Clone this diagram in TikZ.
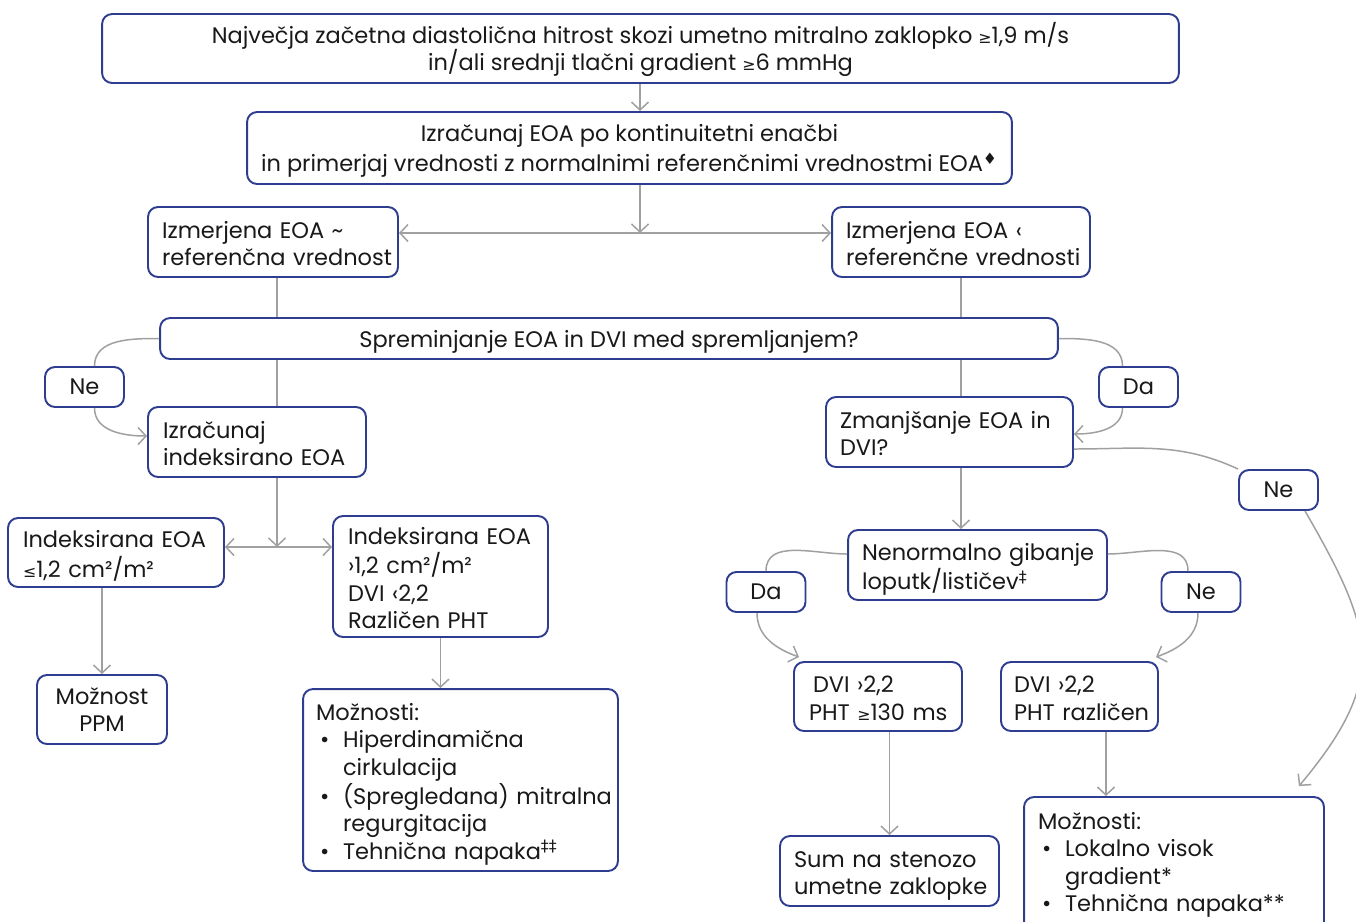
\documentclass[tikz,border=0pt]{standalone}
\usepackage{fontspec}
\setmainfont{Poppins}
\newfontfamily\symf{DejaVu Sans}
\usetikzlibrary{arrows.meta}

\definecolor{boxblue}{RGB}{46,61,143}
\definecolor{linkgray}{RGB}{160,160,160}
\definecolor{txt}{RGB}{25,25,25}

% small relation signs and footnote marks
\newcommand\gesym{{\symf\small ≥}}
\newcommand\lesym{{\symf\small ≤}}
\newcommand\ltsym{‹}
\newcommand\gtsym{›}
\newcommand\marksup[1]{\textsuperscript{\symf #1}}
% bullet list helpers
\newcommand\bitem{\makebox[0.54cm][l]{\hspace{0.08cm}\textbullet}}
\newcommand\bcont{\hspace*{0.54cm}}
% left-aligned lines that never wrap (first row slightly taller)
\newcommand\lines[1]{\begin{tabular}{@{}l@{}}\rule{0pt}{16pt}#1\end{tabular}}
\newcommand\topstrut{\rule{0pt}{13pt}}

\begin{document}
\begin{tikzpicture}[x=0.02cm,y=-0.02cm,
  box/.style={draw=boxblue, line width=1.1pt, rounded corners=0.2cm, fill=white,
    text=txt, font=\fontsize{12.8pt}{15.6pt}\selectfont, inner ysep=0pt},
  lbox/.style={box, align=left, inner xsep=0.28cm},
  cbox/.style={box, align=center},
  tag/.style={box, minimum width=1.58cm, minimum height=0.8cm, text depth=0pt},
  link/.style={draw=linkgray, line width=0.85pt},
  arr/.style={link, -{Straight Barb[length=0.16cm,width=0.34cm]}}]

\useasboundingbox (0,0) rectangle (1356,921);
\clip (0,0) rectangle (1356,921);

% ---------- boxes ----------
\node[cbox, minimum width=21.54cm, minimum height=1.38cm] (top) at (640.5,48.5)
  {\topstrut Največja začetna diastolična hitrost skozi umetno mitralno zaklopko \gesym1,9 m/s\\in/ali srednji tlačni gradient \gesym6 mmHg};
\node[cbox, minimum width=15.3cm, minimum height=1.44cm] (eq) at (629.5,148)
  {\topstrut Izračunaj EOA po kontinuitetni enačbi\\[2pt]in primerjaj vrednosti z normalnimi referenčnimi vrednostmi EOA\marksup{♦}};

\node[lbox, minimum height=1.4cm, text width=4.44cm] (izmL) at (273,242)
  {\lines{Izmerjena EOA \textasciitilde\\referenčna vrednost}};
\node[lbox, minimum height=1.4cm, text width=4.6cm] (izmR) at (961,242)
  {\lines{Izmerjena EOA \ltsym\\referenčne vrednosti}};

\node[cbox, minimum width=17.96cm, minimum height=0.82cm, text depth=0pt] (spr) at (609,338.5)
  {Spreminjanje EOA in DVI med spremljanjem?};

\node[tag] (neL) at (84.5,387) {Ne};
\node[tag] (daR) at (1138.5,387) {Da};

\node[lbox, inner xsep=0.3cm, minimum height=1.4cm, text width=3.76cm] (izr) at (257,442)
  {\lines{Izračunaj\\indeksirano EOA}};
\node[lbox, minimum height=1.4cm, text width=4.38cm] (zma) at (949.5,432)
  {\lines{Zmanjšanje EOA in\\DVI?}};
\node[tag] (neR) at (1278.5,490) {Ne};

\node[lbox, inner xsep=0.3cm, minimum height=1.38cm, text width=3.72cm] (indL) at (116,552.5)
  {\lines{Indeksirana EOA\\\lesym1,2 cm²/m²}};
\node[lbox, inner xsep=0.3cm, minimum height=2.42cm, text width=3.7cm] (indR) at (440.5,576.5)
  {\lines{Indeksirana EOA\\\gtsym1,2 cm²/m²\\DVI \ltsym2,2\\Različen PHT}};

\node[lbox, minimum height=1.4cm, text width=4.62cm] (nen) at (977.5,565)
  {\lines{Nenormalno gibanje\\loputk/lističev\marksup{‡}}};
\node[tag] (daB) at (766,592) {Da};
\node[tag] (neB) at (1201,592) {Ne};

\node[cbox, minimum width=2.6cm, minimum height=1.38cm] (ppm) at (102,709.5)
  {Možnost\\PPM};
\node[lbox, inner xsep=0.26cm, minimum height=3.64cm, text width=5.78cm] (moz1) at (460.5,780)
  {\lines{Možnosti:\\\bitem Hiperdinamična\\\bcont cirkulacija\\\bitem (Spregledana) mitralna\\\bcont regurgitacija\\\bitem Tehnična napaka\marksup{‡‡}}};

\node[lbox, inner xsep=0.3cm, minimum height=1.38cm, text width=2.76cm] (dvi1) at (878,696.5)
  {\lines{\hspace*{0.08cm}DVI \gtsym2,2\\PHT \gesym130 ms}};
\node[lbox, inner xsep=0.26cm, minimum height=1.38cm, text width=2.62cm] (dvi2) at (1079.5,696.5)
  {\lines{DVI \gtsym2,2\\PHT različen}};

\node[lbox, minimum height=1.4cm, text width=3.82cm] (sum) at (889.5,871)
  {\lines{Sum na stenozo\\umetne zaklopke}};
% this box runs on below the lower edge
\node[lbox, minimum height=2.8cm, text width=5.44cm] (moz2) at (1174,867)
  {\lines{Možnosti:\\\bitem Lokalno visok\\\bcont gradient*\\\bitem Tehnična napaka**\rule[-12pt]{0pt}{0pt}}};

% ---------- junctions ----------
\coordinate (j1) at (640,233);
\coordinate (j2) at (277,547);
\coordinate (j3) at (1106,733);

% ---------- straight connectors ----------
\draw[arr] (top.south -| j1) -- (eq.north -| j1);
\draw[arr] (eq.south -| j1) -- (j1);
\draw[arr] (j1) -- (j1 -| izmL.east);
\draw[arr] (j1) -- (j1 -| izmR.west);

\draw[link] (izmL.south -| j2) -- (spr.north -| j2);
\draw[link] (spr.south -| j2) -- (izr.north -| j2);
\draw[arr] (izr.south -| j2) -- (j2);
\draw[arr] (j2) -- (j2 -| indL.east);
\draw[arr] (j2) -- (j2 -| indR.west);
\draw[arr] (indL.south -| ppm.north) -- (ppm.north);
\draw[arr] (indR.south) -- (indR.south |- moz1.north);

\draw[link] (izmR.south) -- (izmR.south |- spr.north);
\draw[link] (spr.south -| izmR.south) -- (zma.north -| izmR.south);
\draw[arr] (zma.south -| izmR.south) -- (nen.north -| izmR.south);
\draw[arr] (dvi1.south -| sum.north) -- (sum.north);
\draw[arr] (dvi2.south -| j3) -- (moz2.north -| j3);

% ---------- curved connectors ----------
\draw[link] (spr.west) to[out=180,in=90] ([xshift=0.2cm]neL.north);
\draw[arr] ([xshift=0.2cm]neL.south) to[out=-90,in=180] ([yshift=0.12cm]izr.west);

\draw[link] (spr.east) to[out=0,in=90] ([xshift=-0.32cm]daR.north);
\draw[arr] ([xshift=-0.32cm]daR.south) to[out=-90,in=0] ([yshift=-0.04cm]zma.east);

\draw[link] ([yshift=-0.34cm]zma.east) to[out=0,in=155] (neR.north west);
\draw[arr] ([xshift=0.53cm]neR.south) to[out=-60,in=50,looseness=1.3]
  ([xshift=-0.52cm,yshift=0.2cm]moz2.north east);

\draw[link] ([yshift=0.22cm]nen.west) to[out=180,in=90] (daB.north);
\draw[arr] ([xshift=-0.18cm]daB.south) to[out=-90,in=160] ([xshift=0.12cm,yshift=0.08cm]dvi1.north west);

\draw[link] ([yshift=0.22cm]nen.east) to[out=0,in=90] ([xshift=-0.26cm]neB.north);
\draw[arr] ([xshift=-0.06cm]neB.south) to[out=-90,in=20] ([xshift=-0.06cm,yshift=0.08cm]dvi2.north east);
\end{tikzpicture}
\end{document}
